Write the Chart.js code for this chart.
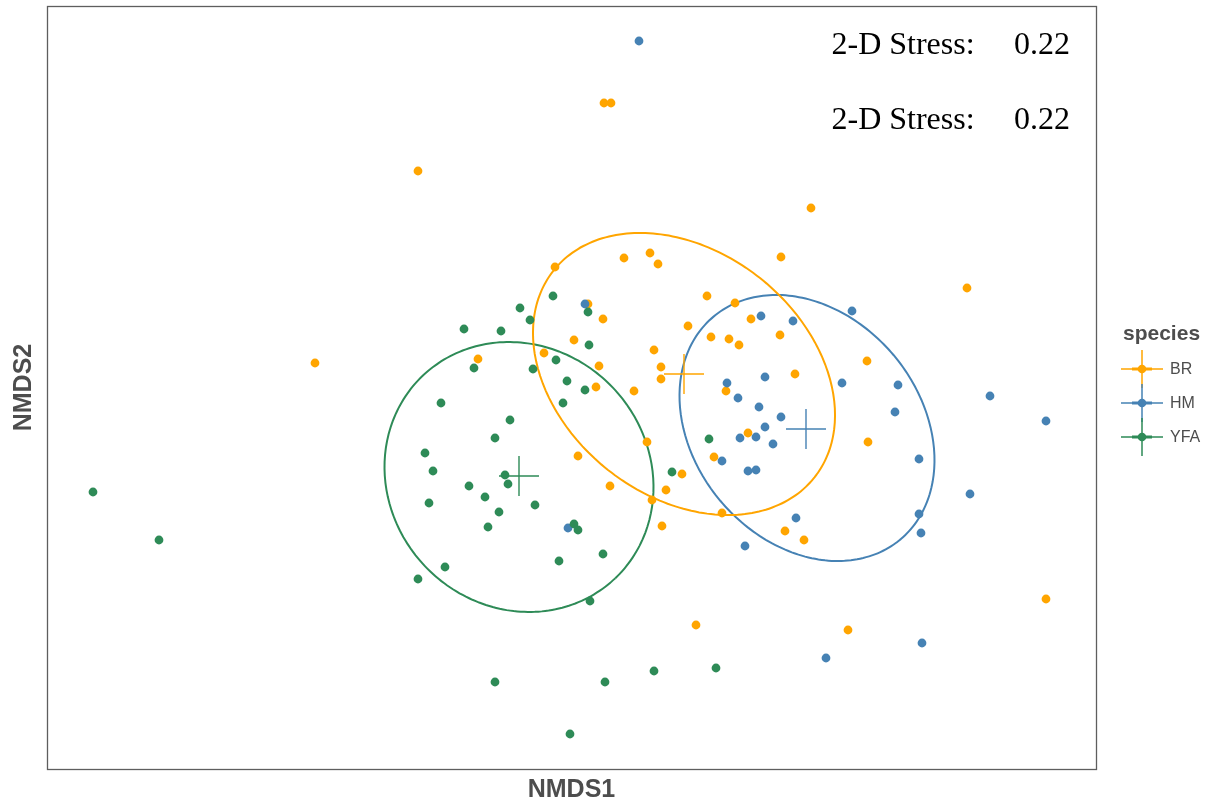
<!DOCTYPE html>
<html>
<head>
<meta charset="utf-8">
<title>NMDS</title>
<script src="https://cdn.jsdelivr.net/npm/chart.js@4.4.1/dist/chart.umd.min.js"></script>
<style>
    html, body { margin: 0; padding: 0; background: #ffffff; }
    #wrap { width: 1217px; height: 805px; }
</style>
</head>
<body>
<div id="wrap"><canvas id="nmds-chart" width="1217" height="805"></canvas></div>
<script>
// 分组与颜色
const species = ['BR', 'HM', 'YFA'];
const speciesColors = ['#FFA500', '#4682B4', '#2E8B57'];

// 各组样本的 NMDS1 / NMDS2 坐标
const brPoints = [
    [0.33, 2.85], [0.40, 2.85], [-1.53, 2.17], [2.40, 1.80], [2.10, 1.31], [0.53, 1.30],
    [0.79, 1.35], [0.87, 1.24], [-0.16, 1.21], [3.96, 1.00], [1.36, 0.92], [1.64, 0.85],
    [0.32, 0.69], [1.17, 0.62], [1.80, 0.69], [1.40, 0.51], [1.58, 0.49], [1.68, 0.43],
    [2.09, 0.53], [0.03, 0.48], [-0.27, 0.35], [0.83, 0.38], [0.28, 0.22], [0.90, 0.21],
    [0.90, 0.09], [2.24, 0.14], [0.25, 0.01], [0.63, -0.03], [1.55, -0.03], [0.76, -0.54],
    [1.77, -0.45], [0.07, -0.68], [1.43, -0.69], [1.11, -0.86], [0.39, -0.98], [0.95, -1.02],
    [0.81, -1.12], [1.51, -1.25], [0.91, -1.38], [2.14, -1.43], [2.33, -1.52], [2.96, 0.27],
    [2.97, -0.54], [-0.93, 0.29], [-2.56, 0.25], [4.75, -2.11], [2.77, -2.42], [1.25, -2.37],
    [0.17, 0.84]
];
const hmPoints = [
    [0.68, 3.47], [2.81, 0.77], [0.14, 0.84], [1.90, 0.72], [2.22, 0.67], [1.94, 0.11],
    [2.71, 0.05], [1.56, 0.05], [1.67, -0.10], [1.88, -0.19], [2.10, -0.29], [1.94, -0.39],
    [1.69, -0.50], [1.85, -0.49], [2.02, -0.56], [1.51, -0.73], [1.77, -0.83], [1.85, -0.82],
    [2.25, -1.30], [1.74, -1.58], [-0.03, -1.40], [3.27, 0.03], [4.19, -0.08], [3.24, -0.24],
    [4.75, -0.33], [3.48, -0.71], [3.99, -1.06], [3.48, -1.26], [3.50, -1.45], [3.51, -2.55],
    [2.55, -2.70]
];
const yfaPoints = [
    [-0.18, 0.92], [-0.51, 0.80], [-0.41, 0.68], [-1.07, 0.59], [-0.70, 0.57], [0.17, 0.76],
    [0.18, 0.43], [-0.15, 0.28], [-0.38, 0.19], [-0.97, 0.20], [-0.04, 0.07], [0.14, -0.02],
    [-0.08, -0.15], [-1.30, -0.15], [-0.61, -0.32], [-0.76, -0.50], [-1.46, -0.65], [-1.38, -0.83],
    [-0.66, -0.87], [-0.63, -0.96], [-1.02, -0.98], [-0.86, -1.09], [-1.42, -1.15], [-0.36, -1.17],
    [-0.72, -1.24], [-0.83, -1.39], [0.03, -1.36], [0.07, -1.42], [-0.12, -1.73], [0.32, -1.66],
    [-1.26, -1.79], [-1.53, -1.91], [0.19, -2.13], [1.38, -0.51], [1.01, -0.84], [-4.78, -1.04],
    [-4.12, -1.52], [-0.76, -2.94], [0.34, -2.94], [0.83, -2.83], [1.45, -2.80], [-0.01, -3.46]
];

// 组中心（十字标记）
const centroids = [[1.13, 0.14], [2.35, -0.41], [-0.52, -0.88]];

// 置信椭圆：中心、半轴、旋转角度（度）
const ellipseCenters = [[1.13, 0.14], [2.36, -0.40], [-0.52, -0.89]];
const ellipseAxes = [[1.665, 1.224], [1.454, 1.132], [1.397, 1.296]];
const ellipseAngles = [-38.4, -50.0, -46.4];

// 坐标轴范围
const xRange = [-5.24, 5.25];
const yRange = [-3.81, 3.82];

// 应力标注
const stressLabel = '2-D Stress:';
const stressValue = '0.22';
const stressX = [2.605, 4.43];
const stressY = [3.345, 2.59];

const sansFont = "'Liberation Sans', Arial, sans-serif";
const serifFont = "'Liberation Serif', 'Times New Roman', serif";
const titleColor = '#4D4D4D';

function toXY(list) {
    return list.map(function(p) { return { x: p[0], y: p[1] }; });
}

// 按椭圆参数生成轮廓
function ellipseOutline(i) {
    const c = ellipseCenters[i];
    const a = ellipseAxes[i][0];
    const b = ellipseAxes[i][1];
    const t = ellipseAngles[i] * Math.PI / 180;
    const out = [];
    for (let k = 0; k <= 120; k++) {
        const s = k / 120 * Math.PI * 2;
        out.push({
            x: c[0] + a * Math.cos(t) * Math.cos(s) - b * Math.sin(t) * Math.sin(s),
            y: c[1] + a * Math.sin(t) * Math.cos(s) + b * Math.cos(t) * Math.sin(s)
        });
    }
    return out;
}

// 边框、应力文字和图例
const decorPlugin = {
    id: 'decor',
    afterDraw: function(chart) {
        const ctx = chart.ctx;
        const area = chart.chartArea;
        const xs = chart.scales.x;
        const ys = chart.scales.y;

        ctx.save();
        ctx.strokeStyle = '#5E5E5E';
        ctx.lineWidth = 1.3;
        ctx.strokeRect(area.left + 0.5, area.top + 0.5, area.right - area.left, area.bottom - area.top);

        ctx.fillStyle = '#000000';
        ctx.font = '32px ' + serifFont;
        ctx.textBaseline = 'alphabetic';
        ctx.textAlign = 'left';
        stressY.forEach(function(v) {
            const py = ys.getPixelForValue(v);
            ctx.fillText(stressLabel, xs.getPixelForValue(stressX[0]), py);
            ctx.fillText(stressValue, xs.getPixelForValue(stressX[1]), py);
        });

        // 图例
        const midY = (area.top + area.bottom) / 2;
        const keyX = area.right + 46;
        ctx.fillStyle = titleColor;
        ctx.font = 'bold 21px ' + sansFont;
        ctx.textBaseline = 'middle';
        ctx.fillText('species', area.right + 27, midY - 53);

        species.forEach(function(name, i) {
            const ky = midY - 18.5 + i * 34;
            const col = speciesColors[i];
            ctx.strokeStyle = col;
            ctx.lineWidth = 1.5;
            ctx.beginPath();
            ctx.moveTo(keyX - 21, ky);
            ctx.lineTo(keyX + 21, ky);
            ctx.moveTo(keyX, ky - 19);
            ctx.lineTo(keyX, ky + 19);
            ctx.stroke();
            ctx.lineWidth = 3;
            ctx.beginPath();
            ctx.moveTo(keyX - 10, ky);
            ctx.lineTo(keyX + 10, ky);
            ctx.stroke();
            ctx.fillStyle = col;
            ctx.beginPath();
            ctx.arc(keyX, ky, 4.3, 0, Math.PI * 2);
            ctx.fill();
            ctx.fillStyle = titleColor;
            ctx.font = '16px ' + sansFont;
            ctx.fillText(name, area.right + 74, ky + 1);
        });
        ctx.restore();
    }
};

const groupPoints = [brPoints, hmPoints, yfaPoints];
const datasets = [];

groupPoints.forEach(function(pts, i) {
    datasets.push({
        label: species[i],
        data: toXY(pts),
        backgroundColor: speciesColors[i],
        borderColor: speciesColors[i],
        pointRadius: 4.4,
        pointBorderWidth: 0,
        order: 2 - i * 0.1
    });
});

species.forEach(function(name, i) {
    datasets.push({
        label: name + ' ellipse',
        type: 'line',
        data: ellipseOutline(i),
        borderColor: speciesColors[i],
        borderWidth: 2,
        pointRadius: 0,
        fill: false,
        tension: 0.1,
        order: 10
    });
    datasets.push({
        label: name + ' centroid',
        data: [{ x: centroids[i][0], y: centroids[i][1] }],
        pointStyle: 'cross',
        pointRadius: 20,
        borderColor: speciesColors[i],
        pointBorderWidth: 1.4,
        order: 5
    });
});

new Chart(document.getElementById('nmds-chart'), {
    type: 'scatter',
    data: { datasets: datasets },
    options: {
        responsive: false,
        animation: false,
        devicePixelRatio: 1,
        layout: { autoPadding: false, padding: { top: 6, right: 121, bottom: 0, left: 0 } },
        plugins: {
            legend: { display: false },
            tooltip: { enabled: false }
        },
        scales: {
            x: {
                type: 'linear',
                min: xRange[0],
                max: xRange[1],
                grid: { display: false, drawTicks: false },
                border: { display: false },
                ticks: { display: false },
                title: {
                    display: true,
                    text: 'NMDS1',
                    color: titleColor,
                    font: { family: sansFont, size: 25, weight: 'bold', lineHeight: 1.2 },
                    padding: { top: 6, bottom: 0 }
                }
            },
            y: {
                type: 'linear',
                min: yRange[0],
                max: yRange[1],
                grid: { display: false, drawTicks: false },
                border: { display: false },
                ticks: { display: false },
                title: {
                    display: true,
                    text: 'NMDS2',
                    color: titleColor,
                    font: { family: sansFont, size: 25, weight: 'bold', lineHeight: 1.2 },
                    padding: { top: 9, bottom: 8 }
                }
            }
        }
    },
    plugins: [decorPlugin]
});
</script>
</body>
</html>
